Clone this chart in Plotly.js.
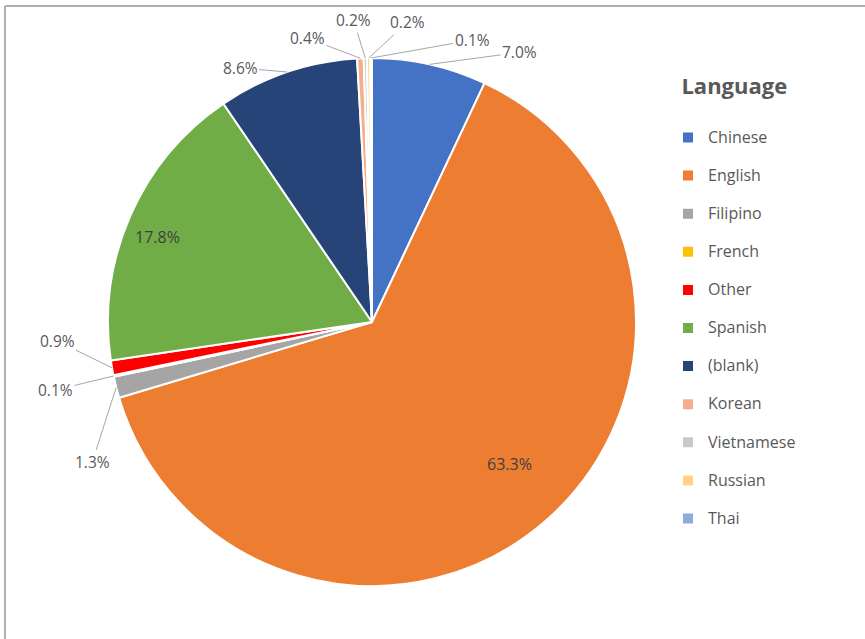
<!DOCTYPE html>
<html>
<head>
<meta charset="utf-8">
<script src="https://cdn.plot.ly/plotly-3.0.1.min.js"></script>
<style>
  html, body { margin: 0; padding: 0; background: #ffffff; }
  #chart { width: 865px; height: 639px; }
</style>
</head>
<body>
<div id="chart"></div>
<script>
// ---- data ----
const categories = ["Chinese", "English", "Filipino", "French", "Other", "Spanish", "(blank)", "Korean", "Vietnamese", "Russian", "Thai"];
const percents   = [7.0, 63.3, 1.3, 0.1, 0.9, 17.8, 8.6, 0.4, 0.2, 0.2, 0.1];
const legendTitle = "Language";

// ---- styles ----
const sliceColors = ["#4472C4", "#ED7D31", "#A5A5A5", "#FFC000", "#FF0000", "#70AD47", "#264478", "#F4AE8A", "#C9C9C9", "#FFD382", "#8FAADC"];
// label placement: inside -> radius fraction (+ small pixel nudge); outside -> pixel offset of the text from the slice edge
const labelPlacement = [
  {out: true,  dx: 90,  dy: -12},
  {out: false, r: 0.74, dx: 10, dy: -6},
  {out: true,  dx: -24, dy: 75},
  {out: true,  dx: -58, dy: 14},
  {out: true,  dx: -55, dy: -27},
  {out: false, r: 0.87, dx: -4, dy: 7},
  {out: true,  dx: -47, dy: -4},
  {out: true,  dx: -53, dy: -20},
  {out: true,  dx: -12, dy: -38},
  {out: true,  dx: 39,  dy: -36},
  {out: true,  dx: 101, dy: -18}
];

const W = 865, H = 639;
const cx = 372, cy = 322, R = 264;
const FONT = "Open Sans, Lato, sans-serif";
const textColor = "#595959";

const total = percents.reduce((a, b) => a + b, 0);
const annotations = [];
let cum = 0;
percents.forEach((v, i) => {
  const mid = (cum + v / 2) / total * 2 * Math.PI;
  cum += v;
  const p = labelPlacement[i];
  const txt = v.toFixed(1) + "%";
  if (p.out) {
    const px = cx + R * Math.sin(mid), py = cy - R * Math.cos(mid);
    annotations.push({
      xref: "paper", yref: "paper",
      x: px / W, y: 1 - py / H,
      ax: p.dx, ay: p.dy,
      xanchor: "center", yanchor: "middle",
      text: txt, showarrow: true, arrowhead: 0, arrowwidth: 1, arrowcolor: "#A6A6A6",
      standoff: 0, startstandoff: 0,
      font: {family: FONT, size: 15.5, color: textColor}
    });
  } else {
    const px = cx + R * p.r * Math.sin(mid) + p.dx, py = cy - R * p.r * Math.cos(mid) + p.dy;
    annotations.push({
      xref: "paper", yref: "paper",
      x: px / W, y: 1 - py / H,
      xanchor: "center", yanchor: "middle",
      text: txt, showarrow: false,
      font: {family: FONT, size: 16, color: "#404040"}
    });
  }
});

const trace = {
  type: "pie",
  labels: categories.map(c => "<span style='font-size:16px'>" + c + "</span><br> "),
  values: percents,
  sort: false,
  direction: "clockwise",
  rotation: 0,
  textinfo: "none",
  hoverinfo: "none",
  marker: {colors: sliceColors, line: {color: "#ffffff", width: 2}},
  domain: {x: [(cx - R) / W, (cx + R) / W], y: [(H - cy - R) / H, (H - cy + R) / H]}
};

const layout = {
  width: W, height: H,
  margin: {l: 0, r: 0, t: 0, b: 0},
  paper_bgcolor: "#ffffff",
  font: {family: FONT, color: textColor},
  showlegend: true,
  legend: {
    x: 668 / W, xanchor: "left",
    y: 1 - 65 / H, yanchor: "top",
    valign: "top",
    font: {family: FONT, size: 13.5, color: textColor},
    title: {text: "&nbsp;&nbsp;" + legendTitle + "<br> ", font: {family: FONT, size: 22, color: textColor, weight: "bold"}},
    itemwidth: 30
  },
  annotations: annotations,
  shapes: [
    {type: "line", xref: "paper", yref: "paper", x0: 5 / W, x1: 1, y0: 1 - 6 / H, y1: 1 - 6 / H, line: {color: "#AFAFAF", width: 2}},
    {type: "line", xref: "paper", yref: "paper", x0: 5 / W, x1: 5 / W, y0: 0, y1: 1 - 6 / H, line: {color: "#AFAFAF", width: 2}}
  ]
};

Plotly.newPlot("chart", [trace], layout, {displayModeBar: false, staticPlot: true});
</script>
</body>
</html>
